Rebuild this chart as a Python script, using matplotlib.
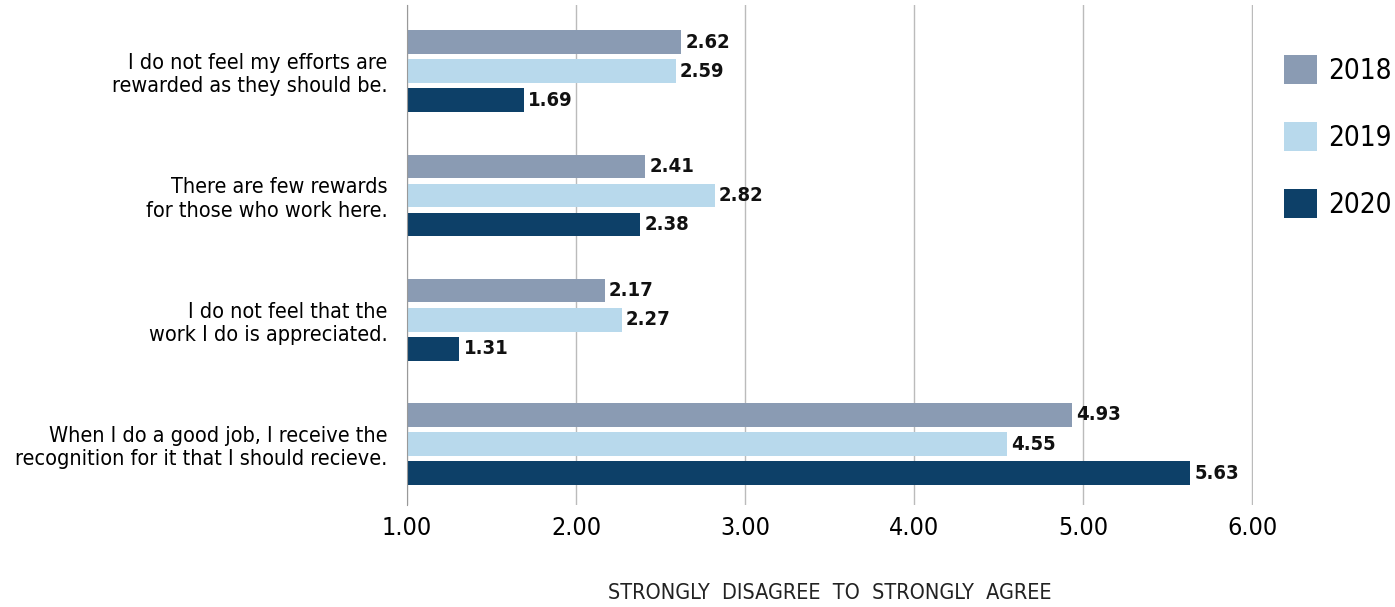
import numpy as np
import matplotlib.pyplot as plt

statements = ["I do not feel my efforts are\nrewarded as they should be.",
              "There are few rewards\nfor those who work here.",
              "I do not feel that the\nwork I do is appreciated.",
              "When I do a good job, I receive the\nrecognition for it that I should recieve."]
years = ["2018", "2019", "2020"]
v2018 = [2.62, 2.41, 2.17, 4.93]
v2019 = [2.59, 2.82, 2.27, 4.55]
v2020 = [1.69, 2.38, 1.31, 5.63]
colors = ["#8a9bb3", "#b8d9ec", "#0d4068"]

plt.rcParams['font.family'] = ['DejaVu Sans']
plt.rcParams['font.stretch'] = 'condensed'

fig = plt.figure(figsize=(13.95, 6.07), dpi=100)
ax = fig.add_axes([407/1395, 1-505/607, (1253-407)/1395, 500/607])

y = np.arange(len(statements))
step = 0.234
h = 0.19
base = 1.0
for k, (vals, c, yr) in enumerate(zip([v2018, v2019, v2020], colors, years)):
    pos = y + (k-1)*step
    widths = [v - base for v in vals]
    ax.barh(pos, widths, left=base, height=h, color=c, label=yr, zorder=3)
    for p, v in zip(pos, vals):
        ax.text(v + 0.025, p, f"{v:.2f}", va='center', ha='left',
                fontsize=14.5, fontweight='bold', color='#111111')

ax.set_xlim(1, 6.003)
ax.set_ylim(3.49, -0.532)
ax.set_xticks([1, 2, 3, 4, 5, 6])
ax.set_xticklabels([f"{t:.2f}" for t in [1, 2, 3, 4, 5, 6]], fontsize=18)
ax.set_yticks(y)
ax.set_yticklabels(statements, fontsize=15.5, ha='right', multialignment='right')
ax.tick_params(axis='both', length=0)
ax.tick_params(axis='y', pad=14)
ax.tick_params(axis='x', pad=8)
ax.grid(axis='x', color='#bbbbbb', linewidth=1, zorder=0)
for s in ['top', 'right', 'bottom']:
    ax.spines[s].set_visible(False)
ax.spines['left'].set_color('#999999')
ax.spines['left'].set_zorder(4)
ax.set_xlabel("STRONGLY  DISAGREE  TO  STRONGLY  AGREE",
              fontsize=15.5, labelpad=31, color='#222222')

handles, labels = ax.get_legend_handles_labels()
fig.legend(handles, labels, loc='upper left', bbox_to_anchor=(1284/1395, 1-55/607),
           frameon=False, fontsize=20, handlelength=1.2, handleheight=1.25,
           labelspacing=1.33, handletextpad=0.4, borderpad=0, borderaxespad=0)

fig.savefig("out.png", dpi=100)
